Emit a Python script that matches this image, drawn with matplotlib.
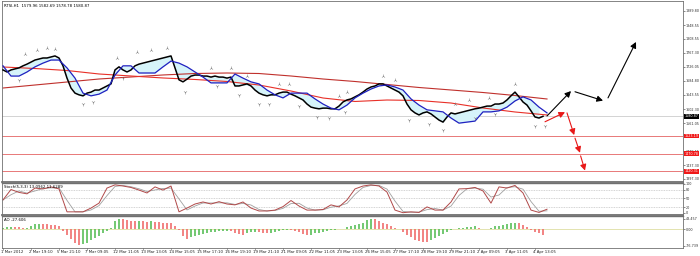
import matplotlib
matplotlib.use('Agg')
import matplotlib.pyplot as plt
import numpy as np
import pandas as pd
from matplotlib.transforms import blended_transform_factory

# ---------------- data ----------------
header_text = "RTSI,H1  1579.96 1582.69 1578.78 1580.87"
stoch_text = "Stoch(5,3,3) 13.0962 11.6289"
ao_text = "AO -27.606"

close_step = 2   # one value every 2 H1 bars
close = [1717, 1711, 1717, 1720, 1723, 1729, 1734, 1740, 1746, 1749, 1752, 1752, 1755, 1758, 1752, 1729,
         1693, 1664, 1649, 1644, 1641, 1649, 1652, 1658, 1658, 1664, 1670, 1676, 1717, 1726, 1717, 1711,
         1717, 1729, 1734, 1737, 1740, 1743, 1746, 1749, 1752, 1755, 1758, 1723, 1688, 1682, 1690, 1699,
         1702, 1702, 1699, 1699, 1696, 1699, 1696, 1696, 1693, 1696, 1670, 1670, 1673, 1676, 1670, 1658,
         1649, 1644, 1641, 1644, 1644, 1649, 1652, 1652, 1646, 1641, 1635, 1629, 1617, 1608, 1605, 1603,
         1605, 1605, 1603, 1603, 1611, 1623, 1629, 1632, 1638, 1644, 1652, 1661, 1667, 1670, 1676, 1676,
         1670, 1664, 1658, 1652, 1641, 1617, 1600, 1591, 1585, 1591, 1594, 1588, 1579, 1570, 1564, 1579,
         1591, 1588, 1591, 1594, 1597, 1600, 1603, 1605, 1608, 1611, 1611, 1617, 1617, 1620, 1629, 1641,
         1652, 1638, 1623, 1614, 1597, 1579, 1576, 1581]

blue_step = 4
blue = [1729, 1699, 1699, 1711, 1726, 1737, 1746, 1746, 1723, 1693, 1649, 1641, 1646, 1658, 1702, 1729,
        1729, 1708, 1708, 1708, 1726, 1743, 1737, 1726, 1711, 1696, 1679, 1679, 1679, 1705, 1693, 1682,
        1676, 1658, 1644, 1635, 1649, 1649, 1649, 1632, 1617, 1605, 1600, 1614, 1635, 1649, 1661, 1670,
        1673, 1667, 1658, 1632, 1614, 1600, 1597, 1594, 1576, 1561, 1564, 1567, 1594, 1594, 1597, 1608,
        1626, 1638, 1629, 1608, 1591]

ma_step = 16
ma_slow = [1664.0, 1672.8, 1681.6, 1690.4, 1696.3, 1702.2, 1706.5, 1708.0, 1706.5, 1699.2, 1690.4,
           1683.1, 1674.3, 1665.5, 1658.2, 1650.8, 1642.0, 1631.8]
ma_fast = [1725.6, 1721.2, 1715.3, 1705.1, 1699.2, 1693.4, 1689.0, 1683.1, 1672.8, 1655.2, 1634.7,
           1624.5, 1628.8, 1627.4, 1620.0, 1605.4, 1593.7, 1584.9]

frac_up_bar = [11, 17, 22, 26, 57, 67, 74, 82, 104, 114, 122, 138, 143, 168, 172, 190, 196, 226, 233, 243, 256]
frac_up_price = [1763.7, 1775.5, 1781.3, 1778.4, 1752.0, 1769.6, 1775.5, 1781.3, 1722.7, 1722.7, 1699.2,
                 1675.8, 1675.8, 1640.6, 1652.3, 1699.2, 1687.5, 1617.1, 1628.8, 1634.7, 1675.8]
frac_dn_bar = [8, 40, 45, 60, 91, 107, 118, 128, 133, 148, 157, 163, 171, 203, 213, 220, 236, 246, 266, 271]
frac_dn_price = [1687.5, 1617.1, 1623.0, 1693.4, 1652.3, 1669.9, 1643.5, 1617.1, 1617.1, 1611.3, 1579.0,
                 1576.1, 1593.7, 1570.2, 1558.5, 1540.9, 1576.1, 1587.8, 1552.6, 1552.6]

support_levels = [1523.19, 1470.78, 1420.31]
last_price = 1580.87
price_ticks = [1889.80, 1848.55, 1808.55, 1767.30, 1726.05, 1684.80, 1643.55, 1602.30, 1561.05,
               1478.55, 1437.30, 1397.30]

# forecast arrows (bar index, price)
black_arrow_x0 = [272, 286, 302.5]
black_arrow_y0 = [1582, 1653, 1635]
black_arrow_x1 = [284, 300, 316.5]
black_arrow_y1 = [1655, 1627, 1799]
red_arrow_x0 = [271, 282, 286, 288.8]
red_arrow_y0 = [1565, 1591, 1517, 1465]
red_arrow_x1 = [281, 285.6, 288.5, 291]
red_arrow_y1 = [1593, 1526, 1474, 1422]

stoch_step = 4
stoch = [45, 81, 71, 66, 86, 83, 90, 83, 4, 4, 4, 17, 34, 86, 97, 93, 88, 79, 69, 90, 79, 93, 4, 17,
         31, 38, 31, 39, 31, 28, 38, 17, 7, 7, 10, 22, 43, 24, 10, 10, 12, 28, 21, 45, 83, 93, 97, 93,
         72, 10, 1, 4, 2, 21, 10, 10, 38, 83, 84, 88, 76, 34, 90, 86, 95, 69, 10, 2, 13]

ao_step = 2
ao = [5, 8, 10, 10, 8, 3, 5, 15, 22, 25, 24, 22, 20, 18, 12, -8, -25, -45, -62, -72, -70, -62, -52, -42,
      -30, -20, -8, 5, 35, 46, 44, 40, 37, 36, 37, 36, 34, 35, 33, 32, 30, 30, 27, 15, -5, -30, -44, -38,
      -30, -25, -22, -18, -15, -13, -11, -10, -9, -10, -18, -24, -27, -20, -14, -12, -15, -18, -20, -16,
      -12, -8, -5, -4, -6, -10, -15, -22, -27, -25, -20, -16, -12, -8, -5, -3, -2, 2, 8, 14, 20, 25, 30,
      40, 48, 46, 38, 30, 22, 12, 5, -2, -12, -25, -38, -48, -55, -58, -59, -52, -42, -32, -22, -12, -5,
      -1, 3, 5, 8, 10, 12, 6, 2, 1, 4, 12, 16, 18, 22, 27, 30, 27, 18, 8, -3, -12, -20, -27.6]

time_labels = ["1 Mar 2012", "2 Mar 19:10", "5 Mar 21:10", "7 Mar 09:05", "12 Mar 11:05", "13 Mar 13:05",
               "14 Mar 15:05", "15 Mar 17:10", "16 Mar 19:10", "19 Mar 21:10", "21 Mar 09:05",
               "22 Mar 11:05", "23 Mar 13:05", "26 Mar 15:05", "27 Mar 17:10", "28 Mar 19:10",
               "29 Mar 21:10", "2 Apr 09:05", "3 Apr 11:05", "4 Apr 13:05"]
time_label_bars = [0, 14, 28, 42, 56, 70, 84, 98, 112, 126, 140, 154, 168, 182, 196, 210, 224, 238, 252, 266]

# ---------------- figure ----------------
W, H = 700, 256
fig = plt.figure(figsize=(W / 100, H / 100), dpi=100)
fig.patch.set_facecolor('white')

def frac_box(x0, y0, x1, y1):
    return [x0 / W, 1 - y1 / H, (x1 - x0) / W, (y1 - y0) / H]

ax = fig.add_axes(frac_box(2, 1, 683, 182))
axs = fig.add_axes(frac_box(2, 183, 683, 215), sharex=ax)
axa = fig.add_axes(frac_box(2, 216, 683, 248), sharex=ax)

FS = 2.8
FSY = 2.45
XMAX = 340
for a in (ax, axs, axa):
    a.set_facecolor('white')
    for s in a.spines.values():
        s.set_color('#707070')
        s.set_linewidth(0.6)
    a.yaxis.tick_right()
    a.tick_params(axis='y', labelsize=FSY, length=1.2, width=0.4, pad=0.6, colors='#303030')
    a.tick_params(axis='x', bottom=False, labelbottom=False)
ax.spines['bottom'].set_linewidth(1.3)
axs.spines['bottom'].set_linewidth(1.3)
axs.spines['top'].set_linewidth(1.0)
axa.spines['top'].set_linewidth(1.0)

ax.set_xlim(-0.5, XMAX)
ax.set_ylim(1388.4, 1919.1)

# price series
xc = np.arange(len(close)) * close_step
xb = np.arange(len(blue)) * blue_step
xm = np.arange(len(ma_slow)) * ma_step
close_arr = np.array(close, dtype=float)
close_on_blue = close_arr[::blue_step // close_step]
n_fill = min(len(blue), len(close_on_blue))

ax.fill_between(xb[:n_fill], blue[:n_fill], close_on_blue[:n_fill], color='#d6f4fa', lw=0, zorder=1)
ax.plot(xm, ma_slow, color='#c0302c', lw=0.8, zorder=2)
ax.plot(xm, ma_fast, color='#e83028', lw=0.8, zorder=2)
ax.plot(xc, close, color='black', lw=1.1, zorder=3)
ax.plot(xb, blue, color='#2020c0', lw=0.9, zorder=4)
ax.plot(frac_up_bar, frac_up_price, ls='none', marker='2', ms=2.8, mew=0.4, color='#808080', zorder=5)
ax.plot(frac_dn_bar, frac_dn_price, ls='none', marker='1', ms=2.8, mew=0.4, color='#808080', zorder=5)

# levels
ax.axhline(last_price, color='#cccccc', lw=0.6, zorder=0)
for lv in support_levels:
    ax.axhline(lv, color='#e87878', lw=0.7, zorder=0)

# forecast arrows
for x0, y0, x1, y1 in zip(black_arrow_x0, black_arrow_y0, black_arrow_x1, black_arrow_y1):
    ax.annotate('', xy=(x1, y1), xytext=(x0, y0),
                arrowprops=dict(arrowstyle='-|>,head_length=0.35,head_width=0.18', color='black', lw=0.8,
                                shrinkA=0, shrinkB=0), zorder=6)
for x0, y0, x1, y1 in zip(red_arrow_x0, red_arrow_y0, red_arrow_x1, red_arrow_y1):
    ax.annotate('', xy=(x1, y1), xytext=(x0, y0),
                arrowprops=dict(arrowstyle='-|>,head_length=0.35,head_width=0.18', color='#e81818', lw=0.8,
                                shrinkA=0, shrinkB=0), zorder=6)

ax.set_yticks(price_ticks)
ax.set_yticklabels([f"{v:.2f}" for v in price_ticks])

tr = blended_transform_factory(ax.transAxes, ax.transData)
ax.text(1.002, last_price, f"{last_price:.2f}", transform=tr, fontsize=FSY, color='white', va='center',
        ha='left', bbox=dict(boxstyle='square,pad=0.12', fc='black', ec='none'), zorder=10, clip_on=False)
for lv in support_levels:
    ax.text(1.002, lv, f"{lv:.2f}", transform=tr, fontsize=FSY, color='white', va='center', ha='left',
            bbox=dict(boxstyle='square,pad=0.12', fc='#f01818', ec='none'), zorder=10, clip_on=False)

ax.text(0.003, 0.985, header_text, transform=ax.transAxes, fontsize=FS, va='top', ha='left', color='black')

# stochastic
xs = np.arange(len(stoch)) * stoch_step
signal = pd.Series(stoch, dtype=float).rolling(2, min_periods=1).mean()
axs.set_ylim(-6.9, 103.4)
for lv in (80, 50, 20):
    axs.axhline(lv, color='#a8a8a8', lw=0.4, ls=(0, (1.5, 1.5)))
axs.plot(xs, signal, color='#a0a0a0', lw=0.6)
axs.plot(xs, stoch, color='#b04848', lw=0.7)
axs.set_yticks([100, 80, 50, 20, 0])
axs.set_yticklabels(['100', '80', '50', '20', '0'])
axs.text(0.003, 0.93, stoch_text, transform=axs.transAxes, fontsize=FS, va='top', ha='left', color='black')

# awesome oscillator
xa = np.arange(len(ao)) * ao_step
ao_arr = np.array(ao, dtype=float)
rising = np.concatenate([[True], ao_arr[1:] > ao_arr[:-1]])
cols = np.where(rising, '#5cc05c', '#f07070')
axa.set_ylim(-87, 60)
axa.axhline(0, color='#d8d890', lw=0.5, zorder=0)
axa.bar(xa, ao_arr, width=0.9, color=cols, lw=0, alpha=0.85)
axa.set_yticks([48.457, 0.0, -76.739])
axa.set_yticklabels(['48.457', '0.00', '-76.739'])
axa.text(0.003, 0.93, ao_text, transform=axa.transAxes, fontsize=FS, va='top', ha='left', color='black')

# time labels
trx = blended_transform_factory(axa.transData, fig.transFigure)
for b, lab in zip(time_label_bars, time_labels):
    axa.text(b - 0.8, 1 - 252 / H, lab, transform=trx, fontsize=FS, va='center', ha='left',
             color='#202020', clip_on=False)
    axa.plot([b, b], [1 - 248 / H, 1 - 249.5 / H], transform=trx, color='#606060', lw=0.4, clip_on=False)

fig.savefig('out.png', dpi=100, facecolor='white')
